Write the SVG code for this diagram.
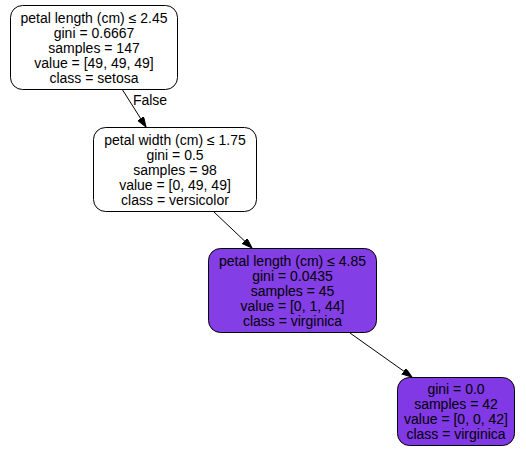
<svg xmlns="http://www.w3.org/2000/svg" width="526" height="459" viewBox="0 0 526 459">
<style>
.box{stroke:#000;stroke-width:1}
text{font-family:"Liberation Sans",Arial,sans-serif;font-size:14px;fill:#000;text-anchor:middle}
.edge{stroke:#000;stroke-width:1;fill:none}
</style>
<defs>
<marker id="arr" markerUnits="userSpaceOnUse" markerWidth="11" markerHeight="8" refX="10" refY="3.5" orient="auto">
<path d="M0,0 L10,3.5 L0,7 z" fill="#000" stroke="#000" stroke-width="1"/>
</marker>
</defs>
<rect width="526" height="459" fill="#fff"/>
<g id="edges">
<line class="edge" x1="122" y1="89" x2="146" y2="127" marker-end="url(#arr)"/>
<text x="150" y="105">False</text>
<line class="edge" x1="214" y1="212" x2="252" y2="248" marker-end="url(#arr)"/>
<line class="edge" x1="350" y1="333" x2="412" y2="377" marker-end="url(#arr)"/>
</g>
<g id="node0">
<rect class="box" x="10.5" y="5.5" width="167" height="84" rx="12" fill="#fff"/>
<text x="94" y="23">petal length (cm) ≤ 2.45</text>
<text x="94" y="38">gini = 0.6667</text>
<text x="94" y="53">samples = 147</text>
<text x="94" y="68">value = [49, 49, 49]</text>
<text x="94" y="83">class = setosa</text>
</g>
<g id="node2">
<rect class="box" x="93.5" y="127.5" width="163" height="84" rx="12" fill="#fff"/>
<text x="175" y="145">petal width (cm) ≤ 1.75</text>
<text x="175" y="160">gini = 0.5</text>
<text x="175" y="175">samples = 98</text>
<text x="175" y="190">value = [0, 49, 49]</text>
<text x="175" y="205">class = versicolor</text>
</g>
<g id="node4">
<rect class="box" x="208.5" y="248.5" width="168" height="84" rx="12" fill="#843ee6"/>
<text x="292.5" y="265.5">petal length (cm) ≤ 4.85</text>
<text x="292.5" y="280.5">gini = 0.0435</text>
<text x="292.5" y="295.5">samples = 45</text>
<text x="292.5" y="310.5">value = [0, 1, 44]</text>
<text x="292.5" y="325.5">class = virginica</text>
</g>
<g id="node6">
<rect class="box" x="397.5" y="377.5" width="117" height="68" rx="12" fill="#8139e5"/>
<text x="456" y="393.5">gini = 0.0</text>
<text x="456" y="408.5">samples = 42</text>
<text x="456" y="423.5">value = [0, 0, 42]</text>
<text x="456" y="438.5">class = virginica</text>
</g>
</svg>
